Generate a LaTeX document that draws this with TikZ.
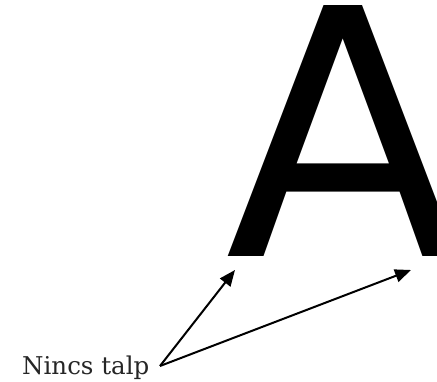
\documentclass[tikz,border=0pt]{standalone}
\usepackage{fontspec}
\newfontfamily\bigsans{DejaVu Sans}
\newfontfamily\labelserif{DejaVu Serif}
\usetikzlibrary{arrows.meta}
\tikzset{
  pointer/.style={line width=2pt, -{Triangle[length=16pt,width=13pt]}},
  letter/.style={font=\fontsize{344.3pt}{344.3pt}\selectfont\bigsans, inner sep=0pt, anchor=base west},
  caption/.style={font=\fontsize{24.5pt}{28pt}\selectfont\labelserif, inner sep=0pt, anchor=base west, text=black!85}
}
\begin{document}
\begin{tikzpicture}[x=1pt, y=-1pt]
  \useasboundingbox (0,0) rectangle (437,382);
  \clip (0,0) rectangle (437,382);
  \node[letter] (bigA) at (225.3,257) {A};
  \node[caption] (lbl) at (22,374) {Nincs talp};
  \coordinate (start) at (160,366);
  \coordinate (footL) at (235,270);
  \coordinate (footR) at (411,270);
  \draw[pointer] (start) -- (footL);
  \draw[pointer] (start) -- (footR);
\end{tikzpicture}
\end{document}
